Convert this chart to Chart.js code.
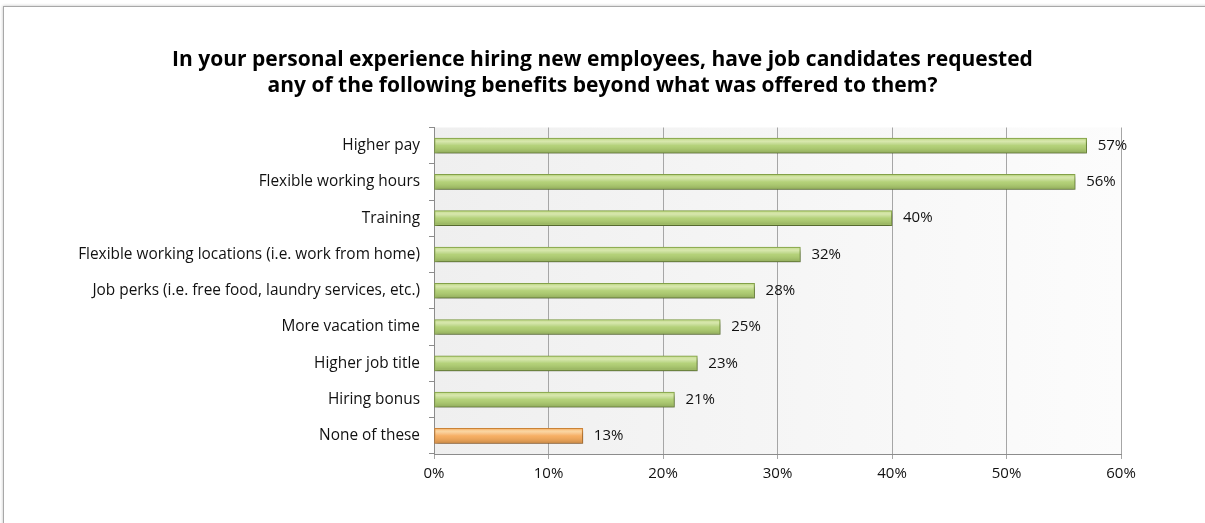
<!DOCTYPE html>
<html>
<head>
<meta charset="utf-8">
<script src="https://cdn.jsdelivr.net/npm/chart.js@4/dist/chart.umd.min.js"></script>
<style>
  html, body { margin: 0; padding: 0; background: #fff; overflow: hidden; }
  #wrap { position: relative; width: 1205px; height: 523px; }
  #frame {
    position: absolute; left: 3px; top: 6px; width: 1300px; height: 600px;
    border: 1px solid #a8a8a8; box-shadow: 0 0 3px rgba(0,0,0,0.25);
  }
  #chart { position: absolute; left: 0; top: 0; }
</style>
</head>
<body>
<div id="wrap">
  <div id="frame"></div>
  <canvas id="chart" width="1205" height="523"></canvas>
</div>
<script>
const categories = [
    'Higher pay',
    'Flexible working hours',
    'Training',
    'Flexible working locations (i.e. work from home)',
    'Job perks (i.e. free food, laundry services, etc.)',
    'More vacation time',
    'Higher job title',
    'Hiring bonus',
    'None of these'
];
const values = [57, 56, 40, 32, 28, 25, 23, 21, 13];
const xTicks = [0, 10, 20, 30, 40, 50, 60];

const titleLines = [
    'In your personal experience hiring new employees, have job candidates requested',
    'any of the following benefits beyond what was offered to them?'
];

const green = '#b0cf72';
const greenEdge = '#86a44a';
const orange = '#f6ab5c';
const orangeEdge = '#cf8639';
const FONT = '"Open Sans", "DejaVu Sans", sans-serif';

let lastIndex = categories.length - 1;

// light gray wash behind the plot, fading to white on the right
const plotBackground = {
    id: 'plotBackground',
    beforeDraw(chart) {
        let { ctx, chartArea: a } = chart;
        let g = ctx.createLinearGradient(a.left, 0, a.right, 0);
        g.addColorStop(0, '#efefef');
        g.addColorStop(1, '#fcfcfc');
        ctx.save();
        ctx.fillStyle = g;
        ctx.fillRect(a.left, a.top, a.right - a.left, a.bottom - a.top);
        ctx.restore();
    }
};

// drop shadow under the bars
const barShadow = {
    id: 'barShadow',
    beforeDatasetsDraw(chart) {
        let ctx = chart.ctx;
        ctx.save();
        ctx.shadowColor = 'rgba(0,0,0,0.4)';
        ctx.shadowBlur = 4;
        ctx.shadowOffsetX = 1;
        ctx.shadowOffsetY = 3;
    },
    afterDatasetsDraw(chart) {
        chart.ctx.restore();
    }
};

// tube shading on each bar plus the percentage at its end
const barGloss = {
    id: 'barGloss',
    afterDatasetsDraw(chart) {
        let ctx = chart.ctx;
        let meta = chart.getDatasetMeta(0);
        ctx.save();
        meta.data.forEach((bar, i) => {
            let top = bar.y - bar.height / 2;
            let left = bar.base;
            let w = bar.x - bar.base;
            let g = ctx.createLinearGradient(0, top, 0, top + bar.height);
            g.addColorStop(0, 'rgba(255,255,230,0.25)');
            g.addColorStop(0.22, 'rgba(255,255,230,0.5)');
            g.addColorStop(0.5, 'rgba(255,255,255,0.05)');
            g.addColorStop(0.8, 'rgba(0,0,0,0.08)');
            g.addColorStop(1, 'rgba(0,0,0,0.18)');
            ctx.fillStyle = g;
            ctx.fillRect(left + 1, top + 1, w - 2, bar.height - 2);

            ctx.fillStyle = '#111';
            ctx.font = '15px ' + FONT;
            ctx.textAlign = 'left';
            ctx.textBaseline = 'middle';
            ctx.fillText(values[i] + '%', bar.x + 11, bar.y);
        });
        ctx.restore();
    }
};

new Chart(document.getElementById('chart'), {
    type: 'bar',
    data: {
        labels: categories,
        datasets: [{
            data: values,
            backgroundColor: values.map((v, i) => i === lastIndex ? orange : green),
            borderColor: values.map((v, i) => i === lastIndex ? orangeEdge : greenEdge),
            borderWidth: 1,
            borderSkipped: false,
            barThickness: 15
        }]
    },
    options: {
        indexAxis: 'y',
        responsive: false,
        animation: false,
        devicePixelRatio: 1,
        layout: { padding: 0 },
        plugins: {
            legend: { display: false },
            tooltip: { enabled: false },
            title: {
                display: true,
                text: titleLines,
                color: '#000',
                font: { family: FONT, size: 21, weight: 'bold', lineHeight: 1.25 },
                padding: { top: 47, bottom: 28 }
            }
        },
        scales: {
            x: {
                min: 0,
                max: 60,
                afterBuildTicks(scale) {
                    scale.ticks = xTicks.map(v => ({ value: v }));
                },
                afterFit(scale) { scale.height = 69; },
                border: { color: '#8c8c8c', width: 1 },
                grid: { color: '#a6a6a6', lineWidth: 1, tickLength: 5 },
                ticks: {
                    color: '#111',
                    padding: 6,
                    font: { family: FONT, size: 15 },
                    callback: v => v + '%'
                }
            },
            y: {
                afterFit(scale) { scale.width = 434; },
                border: { color: '#8c8c8c', width: 1 },
                grid: { drawOnChartArea: false, offset: true, color: '#8c8c8c', tickLength: 5 },
                ticks: {
                    color: '#111',
                    padding: 9,
                    font: { family: FONT, size: 15.4 }
                }
            },
            // empty strip on the right so the plot stops at 60%
            gutter: {
                type: 'category',
                axis: 'y',
                position: 'right',
                afterFit(scale) { scale.width = 84; },
                border: { display: false },
                grid: { display: false },
                ticks: { display: false }
            }
        }
    },
    plugins: [plotBackground, barShadow, barGloss]
});
</script>
</body>
</html>
